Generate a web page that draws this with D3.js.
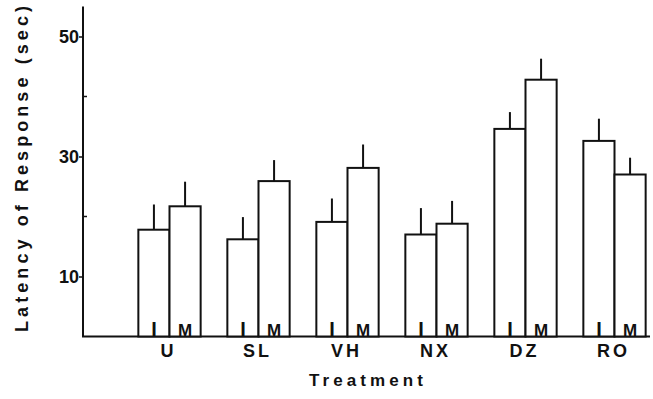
<!DOCTYPE html>
<html lang="en">
<head>
<meta charset="UTF-8">
<title>Latency of Response</title>
<script src="https://cdn.jsdelivr.net/npm/d3@7/dist/d3.min.js"></script>
<style>
  body { margin: 0; background: #fff; }
  text { font-family: "Liberation Sans", Arial, sans-serif; font-weight: bold; fill: #111; }
</style>
</head>
<body>
<svg id="mainsvg" width="653" height="399"></svg>
<script>
    // data
    const treatments = ['U', 'SL', 'VH', 'NX', 'DZ', 'RO'];
    const conditions = ['I', 'M'];
    const meanI = [17.8, 16.2, 19.1, 17.0, 34.6, 32.6];
    const meanM = [21.7, 25.9, 28.1, 18.8, 42.8, 27.0];
    const errI = [4.2, 3.7, 3.9, 4.4, 2.8, 3.7];
    const errM = [4.1, 3.5, 3.9, 3.8, 3.5, 2.8];
    const majorTicks = [10, 30, 50];
    const minorTicks = [20, 40];

    const svg = d3.select('#mainsvg');
    const ink = '#111';

    const rows = [];
    treatments.forEach((t, i) => {
        rows.push({t: t, c: 'I', v: meanI[i], e: errI[i]});
        rows.push({t: t, c: 'M', v: meanM[i], e: errM[i]});
    });

    const y = d3.scaleLinear().domain([0, 55]).range([336.5, 6.5]);
    const x0 = d3.scaleBand().domain(treatments).range([125, 659])
        .paddingInner(0.3).paddingOuter(0.15);
    const x1 = d3.scaleBand().domain(conditions).range([0, x0.bandwidth()]);

    // y axis
    const axisX = 83;
    const yAxis = svg.append('g')
        .attr('transform', `translate(${axisX},0)`)
        .call(d3.axisLeft(y).tickValues(majorTicks).tickSize(4).tickPadding(0));
    yAxis.select('.domain').remove();
    yAxis.selectAll('line').attr('stroke', ink).attr('stroke-width', 1.5);
    yAxis.selectAll('text')
        .attr('font-size', 18)
        .attr('font-family', '"Liberation Sans", Arial, sans-serif')
        .attr('font-weight', 'bold')
        .attr('fill', ink)
        .attr('dy', '0.36em');

    svg.append('line')
        .attr('x1', axisX).attr('x2', axisX)
        .attr('y1', y.range()[1]).attr('y2', y(0))
        .attr('stroke', ink).attr('stroke-width', 2);

    svg.selectAll('.minor').data(minorTicks).join('line')
        .attr('class', 'minor')
        .attr('x1', axisX).attr('x2', axisX + 4)
        .attr('y1', d => y(d)).attr('y2', d => y(d))
        .attr('stroke', ink).attr('stroke-width', 1.5);

    // baseline
    svg.append('line')
        .attr('x1', axisX - 1).attr('x2', 650)
        .attr('y1', y(0)).attr('y2', y(0))
        .attr('stroke', ink).attr('stroke-width', 2);

    // bars
    const bx = d => x0(d.t) + x1(d.c);
    const bars = svg.append('g');
    bars.selectAll('rect').data(rows).join('rect')
        .attr('x', bx)
        .attr('y', d => y(d.v))
        .attr('width', x1.bandwidth())
        .attr('height', d => y(0) - y(d.v))
        .attr('fill', '#fff')
        .attr('stroke', ink)
        .attr('stroke-width', 2);

    // error bars (upper only)
    bars.selectAll('.err').data(rows).join('line')
        .attr('class', 'err')
        .attr('x1', d => bx(d) + x1.bandwidth() / 2)
        .attr('x2', d => bx(d) + x1.bandwidth() / 2)
        .attr('y1', d => y(d.v))
        .attr('y2', d => y(d.v + d.e))
        .attr('stroke', ink).attr('stroke-width', 2);

    // I / M labels inside bars
    bars.selectAll('.cond').data(rows).join('text')
        .attr('class', 'cond')
        .attr('x', d => bx(d) + x1.bandwidth() / 2)
        .attr('y', y(0) - 1)
        .attr('text-anchor', 'middle')
        .attr('font-size', d => d.c === 'I' ? 20 : 17)
        .text(d => d.c);

    // treatment labels
    svg.selectAll('.grp').data(treatments).join('text')
        .attr('class', 'grp')
        .attr('x', d => x0(d) + x0.bandwidth() / 2 - 1)
        .attr('y', 357)
        .attr('text-anchor', 'middle')
        .attr('font-size', 18)
        .attr('letter-spacing', 3)
        .text(d => d);

    // axis titles
    svg.append('text')
        .attr('x', 366).attr('y', 386)
        .attr('text-anchor', 'middle')
        .attr('font-size', 17)
        .attr('textLength', 114)
        .attr('lengthAdjust', 'spacing')
        .text('Treatment');

    svg.append('text')
        .attr('transform', 'translate(28,169) rotate(-90)')
        .attr('text-anchor', 'middle')
        .attr('font-size', 18)
        .attr('textLength', 326)
        .attr('lengthAdjust', 'spacing')
        .text('Latency  of  Response  (sec)');
</script>
</body>
</html>
